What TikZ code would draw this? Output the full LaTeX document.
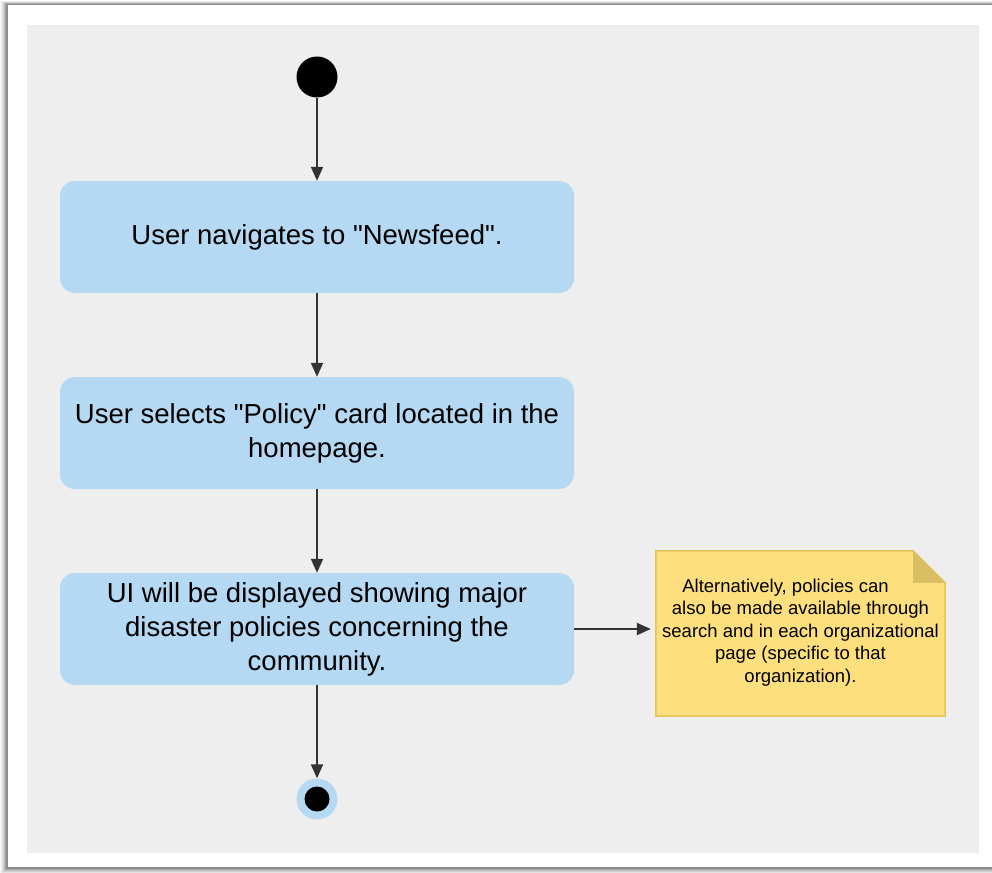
\documentclass[tikz,border=0pt]{standalone}
\usepackage{fontspec}
\setmainfont{Liberation Sans}[Ligatures=TeXOff]
\usetikzlibrary{arrows.meta,calc}
\definecolor{bgray}{HTML}{EEEEEE}
\definecolor{boxblue}{HTML}{B5D9F2}
\definecolor{notefill}{HTML}{FDE07D}
\definecolor{noteline}{HTML}{E3C45A}
\definecolor{notefold}{HTML}{DABE62}
\definecolor{arrowc}{HTML}{333333}
\tikzset{
  actbox/.style={rectangle, rounded corners=15pt, fill=boxblue, draw=none,
    minimum width=514pt, minimum height=112pt, align=center,
    font=\fontsize{27.5}{34}\selectfont, inner sep=0pt},
  flow/.style={draw=arrowc, line width=2pt, -{Triangle[length=14pt,width=12pt]}},
  notetext/.style={align=center, font=\fontsize{18.5}{22.5}\selectfont, inner sep=0pt,
    minimum width=289pt, minimum height=165pt}
}
\begin{document}
\begin{tikzpicture}[x=1pt,y=-1pt]
\useasboundingbox (0,0) rectangle (992,872);
\fill[white] (0,0) rectangle (992,872);
% shadow of the frame
\foreach \o/\a in {8/0.03,7/0.04,6/0.05,5/0.07,4/0.09,3/0.12,2/0.15}{
  \fill[black,opacity=\a] (8-\o,5-0.5*\o) rectangle (992,867+\o);
}
\fill[white] (8,5) rectangle (992,867);
\fill[bgray] (27,25) rectangle (979,853);

% start
\node[circle, fill=black, minimum size=41pt, inner sep=0pt] (start) at (317,77) {};
% activity boxes
\node[actbox] (b1) at (317,237) {User navigates to "Newsfeed".};
\node[actbox] (b2) at (317,433) {User selects "Policy" card located in the\\homepage.};
\node[actbox] (b3) at (317,629) {UI will be displayed showing major\\disaster policies concerning the\\community.};
% end
\node[circle, fill=boxblue, minimum size=41pt, inner sep=0pt] (end) at (317,799) {};
\fill[black] (end.center) circle (12.5pt);

% note
\node[notetext] (note) at (800.5,633.5) {};
\fill[notefill] (note.north west) -- ($(note.north east)+(-32,0)$) -- ($(note.north east)+(0,32)$) -- (note.south east) -- (note.south west) -- cycle;
\draw[noteline, line width=1.5pt] (note.north west) -- ($(note.north east)+(-32,0)$) -- ($(note.north east)+(0,32)$) -- (note.south east) -- (note.south west) -- cycle;
\fill[notefold] ($(note.north east)+(-32,0)$) -- ($(note.north east)+(-32,32)$) -- ($(note.north east)+(0,32)$) -- cycle;
\node[notetext] at ($(note.center)+(0,-1)$) {Alternatively, policies can\hspace*{30pt}\\also be made available through\\search and in each organizational\\page (specific to that\\organization).};

% connectors
\draw[flow] (start) -- (b1);
\draw[flow] (b1) -- (b2);
\draw[flow] (b2) -- (b3);
\draw[flow] (b3) -- (end);
\draw[flow, shorten >=5pt] (b3.east) -- (b3.east -| note.west);
\end{tikzpicture}
\end{document}
